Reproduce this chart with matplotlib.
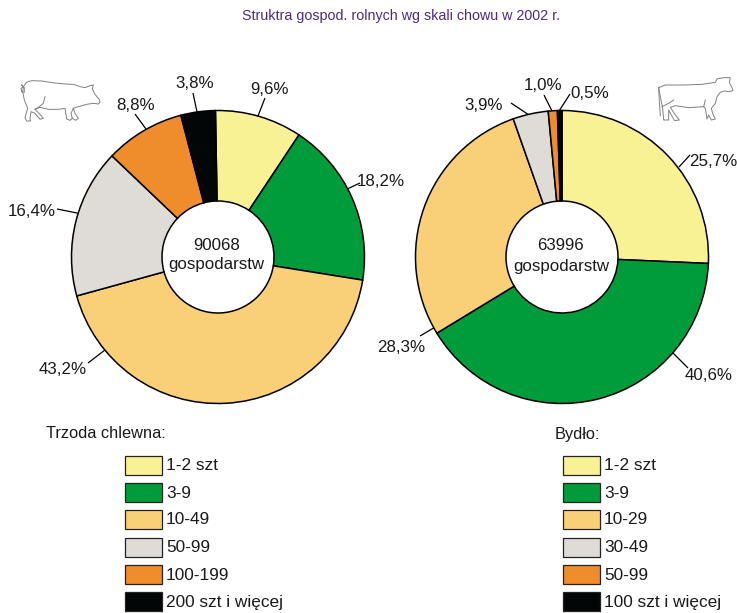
import matplotlib
matplotlib.use('Agg')
import matplotlib.pyplot as plt
from matplotlib.patches import Rectangle

plt.rcParams['font.family'] = ['Liberation Sans', 'DejaVu Sans']

colors = ['#f9f295', '#009c3b', '#f9d077', '#dfdcd7', '#ef8c2b', '#030607']

pig_values = [9.6, 18.2, 43.2, 16.4, 8.8, 3.8]
pig_labels = ['9,6%', '18,2%', '43,2%', '16,4%', '8,8%', '3,8%']
pig_classes = ['1-2 szt', '3-9', '10-49', '50-99', '100-199', '200 szt i więcej']

cow_values = [25.7, 40.6, 28.3, 3.9, 1.0, 0.5]
cow_labels = ['25,7%', '40,6%', '28,3%', '3,9%', '1,0%', '0,5%']
cow_classes = ['1-2 szt', '3-9', '10-29', '30-49', '50-99', '100 szt i więcej']

W, H = 737, 613
R = 146.5
HOLE = 56
FS = 12.2

fig = plt.figure(figsize=(W / 100, H / 100), dpi=100)

# overlay in pixel coords, for texts, leaders and legend
ov = fig.add_axes([0, 0, 1, 1])
ov.set_xlim(0, W)
ov.set_ylim(H, 0)
ov.axis('off')


def donut(cx, cy, values, start):
    ax = fig.add_axes([(cx - R) / W, 1 - (cy + R) / H, 2 * R / W, 2 * R / H])
    ax.pie(values, colors=colors, startangle=start, counterclock=False, radius=1,
           wedgeprops=dict(width=1 - HOLE / R, edgecolor='black', linewidth=1.1))
    ax.set_xlim(-1, 1)
    ax.set_ylim(-1, 1)
    for p in ax.patches:
        p.set_clip_on(False)


donut(218, 257, pig_values, 91)
donut(562, 257, cow_values, 90)


def labels(texts, places, leaders):
    for t, (x, y) in zip(texts, places):
        ov.text(x, y, t, ha='center', va='center', fontsize=FS, color='#1a1a1a')
    for (x0, y0, x1, y1) in leaders:
        ov.plot([x0, x1], [y0, y1], color='black', lw=0.9, solid_capstyle='butt')


labels(pig_labels,
       [(270, 90), (381, 181), (63, 370), (32, 212), (136, 105), (195, 83)],
       [(265, 98, 258, 116), (360, 183, 345, 190), (88, 363, 105, 350),
        (57, 209, 82, 214), (135, 114, 146, 129), (193, 93, 197, 112)])
labels(cow_labels,
       [(713, 161), (709, 376), (401, 348), (484, 106), (543, 86), (590, 93)],
       [(690, 155, 679, 167), (688, 368, 672, 352), (420, 336, 437, 326),
        (511, 103, 529, 115), (544, 95, 552, 111), (570, 94, 559, 111)])

ov.text(217, 245, '90068', ha='center', va='center', fontsize=FS, color='#1a1a1a')
ov.text(216, 265, 'gospodarstw', ha='center', va='center', fontsize=FS, color='#1a1a1a')
ov.text(560, 246, '63996', ha='center', va='center', fontsize=FS, color='#1a1a1a')
ov.text(561, 266, 'gospodarstw', ha='center', va='center', fontsize=FS, color='#1a1a1a')

ov.text(401, 16, 'Struktra gospod. rolnych wg skali chowu w 2002 r.', ha='center', va='center',
        fontsize=10.3, color='#4b2a86')

row_y = [465, 492, 519, 547, 574, 601]


def legend(title, title_x, classes, x):
    ov.text(title_x, 434, title, ha='left', va='center', fontsize=11.8, color='#1a1a1a')
    for c, name, y in zip(colors, classes, row_y):
        ov.add_patch(Rectangle((x, y - 9.5), 37, 19, facecolor=c, edgecolor='#222222', lw=0.9))
        ov.text(x + 41, y + 1, name, ha='left', va='center', fontsize=12.4, color='#1a1a1a')


legend('Trzoda chlewna:', 46, pig_classes, 125)
legend('Bydło:', 555, cow_classes, 563)


def sketch(x0, y0, xs, ys):
    ov.plot([x0 + x / 3 for x in xs], [y0 + y / 3 for y in ys], color='#808080', lw=0.7)


# animal outlines, traced by eye from the 3x zoom
sketch(15, 75,
       [25, 35, 50, 80, 120, 150, 175, 195, 210, 225, 235, 232, 240, 252, 255, 250, 235, 215, 190,
        175, 168, 172, 165, 155, 150, 130, 100, 75, 60, 75, 85, 75, 60, 48, 45, 47, 35, 30, 38, 28,
        23, 25],
       [35, 22, 17, 18, 24, 27, 28, 35, 38, 32, 30, 42, 58, 72, 82, 87, 85, 88, 95,
        100, 115, 130, 136, 132, 100, 103, 103, 97, 103, 118, 130, 133, 115, 110, 130, 138, 138,
        128, 100, 75, 50, 35])
sketch(15, 75, [90, 85, 70, 60], [65, 85, 97, 103])
sketch(15, 75, [175, 180, 190, 182, 172], [100, 115, 130, 136, 130])
sketch(15, 75, [25, 18, 20, 28, 28, 20, 25], [35, 40, 50, 52, 38, 30, 35])

sketch(652, 75,
       [20, 40, 100, 150, 190, 195, 215, 235, 232, 240, 243, 230, 218, 205, 195, 190, 178, 183, 190,
        178, 170, 165, 160, 155, 110, 70, 55, 70, 82, 68, 55, 50, 50, 35, 32, 25, 20],
       [38, 30, 30, 28, 22, 12, 8, 8, 22, 38, 47, 50, 48, 52, 65, 85, 100, 118, 132,
        135, 120, 132, 100, 95, 98, 92, 97, 120, 135, 137, 115, 105, 135, 135, 100, 65, 38])
sketch(652, 75, [20, 22, 25], [38, 80, 122])
sketch(652, 75, [30, 50, 65], [95, 85, 75])
sketch(652, 75, [155, 160], [95, 75])

fig.savefig('out.png', dpi=100)
